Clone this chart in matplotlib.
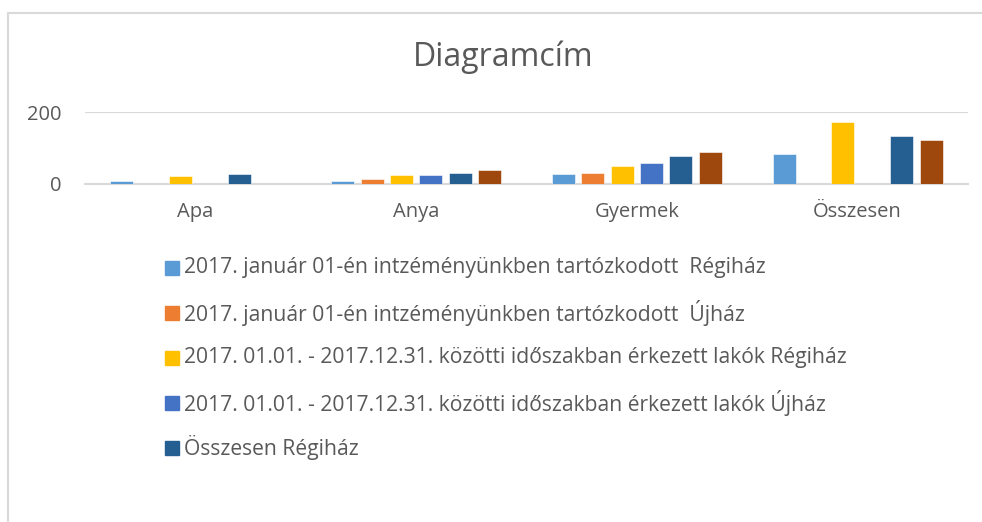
import numpy as np
import matplotlib.pyplot as plt
from matplotlib.patches import Rectangle

plt.rcParams['font.family'] = ['Open Sans', 'DejaVu Sans']

categories = ['Apa', 'Anya', 'Gyermek', 'Összesen']
series_names = [
    '2017. január 01-én intzéményünkben tartózkodott  Régiház',
    '2017. január 01-én intzéményünkben tartózkodott  Újház',
    '2017. 01.01. - 2017.12.31. közötti időszakban érkezett lakók Régiház',
    '2017. 01.01. - 2017.12.31. közötti időszakban érkezett lakók Újház',
    'Összesen Régiház',
    'Összesen Újház',
]
jan_regi = [7, 8, 28, 83]
jan_uj = [0, 13, 29, 0]
erk_regi = [21, 23, 50, 173]
erk_uj = [0, 24, 59, 0]
ossz_regi = [28, 31, 78, 134]
ossz_uj = [0, 37, 88, 122]
values = [jan_regi, jan_uj, erk_regi, erk_uj, ossz_regi, ossz_uj]
colors = ['#5B9BD5', '#ED7D31', '#FFC000', '#4472C4', '#255E91', '#9E480E']

W, H = 982, 522
fig = plt.figure(figsize=(W / 100, H / 100), dpi=100)
ax = fig.add_axes([85 / W, 1 - 183.7 / H, (968 - 85) / W, (183.7 - 112) / H])

text_col = '#595959'
grid_col = '#D9D9D9'

x = np.arange(len(categories))
step = 0.133
width = 0.104
for i, (vals, col) in enumerate(zip(values, colors)):
    ax.bar(x + (i - 2.5) * step, vals, width=width, color=col,
           edgecolor='white', linewidth=0.4, zorder=3, label=series_names[i])

ax.set_xlim(-0.5, 3.5)
ax.set_ylim(0, 200)
ax.set_yticks([0, 200])
ax.set_xticks(x)
ax.set_xticklabels(categories)
ax.tick_params(length=0, labelsize=14.5, colors=text_col)
ax.tick_params(axis='x', pad=13)
ax.tick_params(axis='y', pad=17)
for s in ['top', 'right', 'left']:
    ax.spines[s].set_visible(False)
ax.spines['bottom'].set_color(grid_col)
ax.spines['bottom'].set_linewidth(1.5)
ax.grid(axis='y', color=grid_col, linewidth=1.5, zorder=0)
ax.set_axisbelow(True)

fig.text(503 / W, 1 - 57 / H, 'Diagramcím', ha='center', va='center',
         fontsize=23, color=text_col)

# legend (only first five entries are visible in the original)
rows = [268, 313, 358, 403, 448]
for y, name, col in zip(rows, series_names[:5], colors[:5]):
    fig.patches.append(Rectangle((165 / W, 1 - (y + 7) / H), 14 / W, 14 / H,
                                 transform=fig.transFigure, color=col))
    fig.text(184 / W, 1 - y / H, name, ha='left', va='center',
             fontsize=15.2, color=text_col)

# chart border
fig.add_artist(plt.Line2D([8 / W, 8 / W], [0, 1 - 13 / H], transform=fig.transFigure,
                          color=grid_col, linewidth=1.5))
fig.add_artist(plt.Line2D([8 / W, 1], [1 - 13 / H, 1 - 13 / H], transform=fig.transFigure,
                          color=grid_col, linewidth=1.5))

fig.savefig('out.png', dpi=100)
